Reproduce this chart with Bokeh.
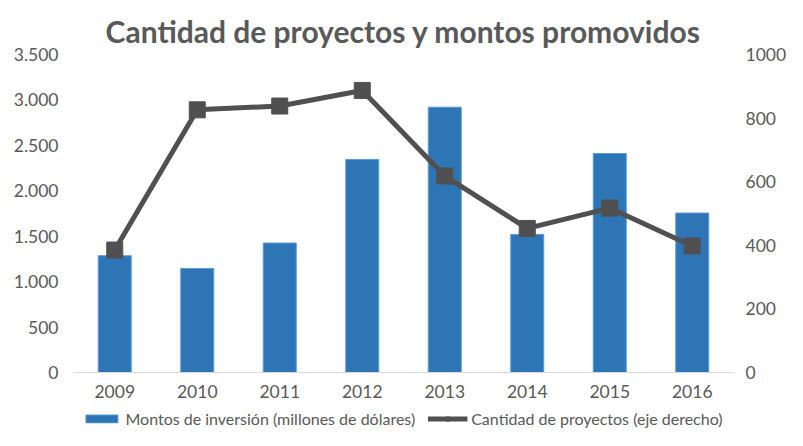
from bokeh.plotting import figure
from bokeh.layouts import column
from bokeh.models import (FactorRange, Range1d, LinearAxis, FixedTicker, Legend, LegendItem,
                          ColumnDataSource)
from bokeh.embed import file_html
from bokeh.resources import INLINE

years = ["2009", "2010", "2011", "2012", "2013", "2014", "2015", "2016"]
montos = [1285, 1145, 1425, 2345, 2920, 1520, 2410, 1755]
proyectos = [385, 826, 838, 887, 618, 453, 517, 398]

left_ticks = [0, 500, 1000, 1500, 2000, 2500, 3000, 3500]
left_tick_labels = ["0", "500", "1.000", "1.500", "2.000", "2.500", "3.000", "3.500"]
right_ticks = [0, 200, 400, 600, 800, 1000]

title_text = "Cantidad de proyectos y montos promovidos"
label_bars = "Montos de inversión (millones de dólares)"
label_line = "Cantidad de proyectos (eje derecho)"

TXT = "#595959"
FONT = "Lato"
TICK_SIZE = "17.5px"
BAR_FILL = "#2E75B6"
BAR_EDGE = "#5B9BD5"
LINE_COL = "#505050"

src = ColumnDataSource(dict(year=years, montos=montos, proyectos=proyectos))

p = figure(frame_width=660, frame_height=318, x_range=FactorRange(*years), y_range=Range1d(0, 3500),
           output_backend="svg", toolbar_location=None,
           min_border_left=73, min_border_right=54, min_border_top=54, min_border_bottom=34)
p.extra_y_ranges = {"right": Range1d(0, 1000)}

p.title.text = title_text
p.title.align = "center"
p.title.text_font = FONT
p.title.text_font_size = "30px"
p.title.text_font_style = "bold"
p.title.text_color = TXT
p.title.offset = 0
p.title.standoff = 12

p.outline_line_color = None
p.grid.grid_line_color = None
p.background_fill_color = "white"
p.border_fill_color = "white"

p.vbar(x="year", top="montos", width=0.4, source=src,
       fill_color=BAR_FILL, line_color=BAR_EDGE, line_width=1)
p.line(x="year", y="proyectos", source=src, y_range_name="right",
       line_color=LINE_COL, line_width=5)
p.scatter(x="year", y="proyectos", source=src, y_range_name="right",
          marker="square", size=16, fill_color=LINE_COL, line_color=LINE_COL)


def style_axis(ax, standoff):
    ax.major_tick_line_color = None
    ax.minor_tick_line_color = None
    ax.major_tick_out = 0
    ax.major_tick_in = 0
    ax.minor_tick_out = 0
    ax.axis_label_standoff = 0
    ax.axis_label_text_font_size = "0px"
    ax.major_label_text_font = FONT
    ax.major_label_text_font_size = TICK_SIZE
    ax.major_label_text_color = TXT
    ax.major_label_standoff = standoff


ya = p.yaxis[0]
ya.ticker = FixedTicker(ticks=left_ticks)
ya.major_label_overrides = {t: l for t, l in zip(left_ticks, left_tick_labels)}
ya.axis_line_color = None
style_axis(ya, 15)

ra = LinearAxis(y_range_name="right", ticker=FixedTicker(ticks=right_ticks))
ra.axis_line_color = None
style_axis(ra, 12)
p.add_layout(ra, "right")

xa = p.xaxis[0]
xa.axis_line_color = "#D9D9D9"
xa.axis_line_width = 1
style_axis(xa, 12)

# legend strip below the chart (keys are drawn off-range, only the legend shows them)
lf = figure(width=787, height=24, x_range=Range1d(0, 1), y_range=Range1d(0, 1),
            output_backend="svg", toolbar_location=None,
            x_axis_location=None, y_axis_location=None,
            min_border_left=0, min_border_right=0, min_border_top=0, min_border_bottom=0)
lf.outline_line_color = None
lf.grid.grid_line_color = None
key_src = ColumnDataSource(dict(x=[-10.0], y=[-10.0]))
lb = lf.vbar(x="x", top="y", width=0.4, source=key_src,
             fill_color=BAR_FILL, line_color=BAR_EDGE, line_width=1)
ll = lf.line(x="x", y="y", source=key_src, line_color=LINE_COL, line_width=5)
lm = lf.scatter(x="x", y="y", source=key_src, marker="square", size=11,
                fill_color=LINE_COL, line_color=LINE_COL)

legend = Legend(items=[LegendItem(label=label_bars, renderers=[lb]),
                       LegendItem(label=label_line, renderers=[ll, lm])],
                orientation="horizontal", location="center",
                label_text_font=FONT, label_text_font_size="16px", label_text_color=TXT,
                glyph_width=40, glyph_height=10, spacing=12, padding=0, margin=0,
                label_standoff=4, border_line_color=None, background_fill_alpha=0)
lf.add_layout(legend, "center")

layout = column(p, lf, spacing=0)
open("out.html", "w").write(file_html(layout, INLINE))
